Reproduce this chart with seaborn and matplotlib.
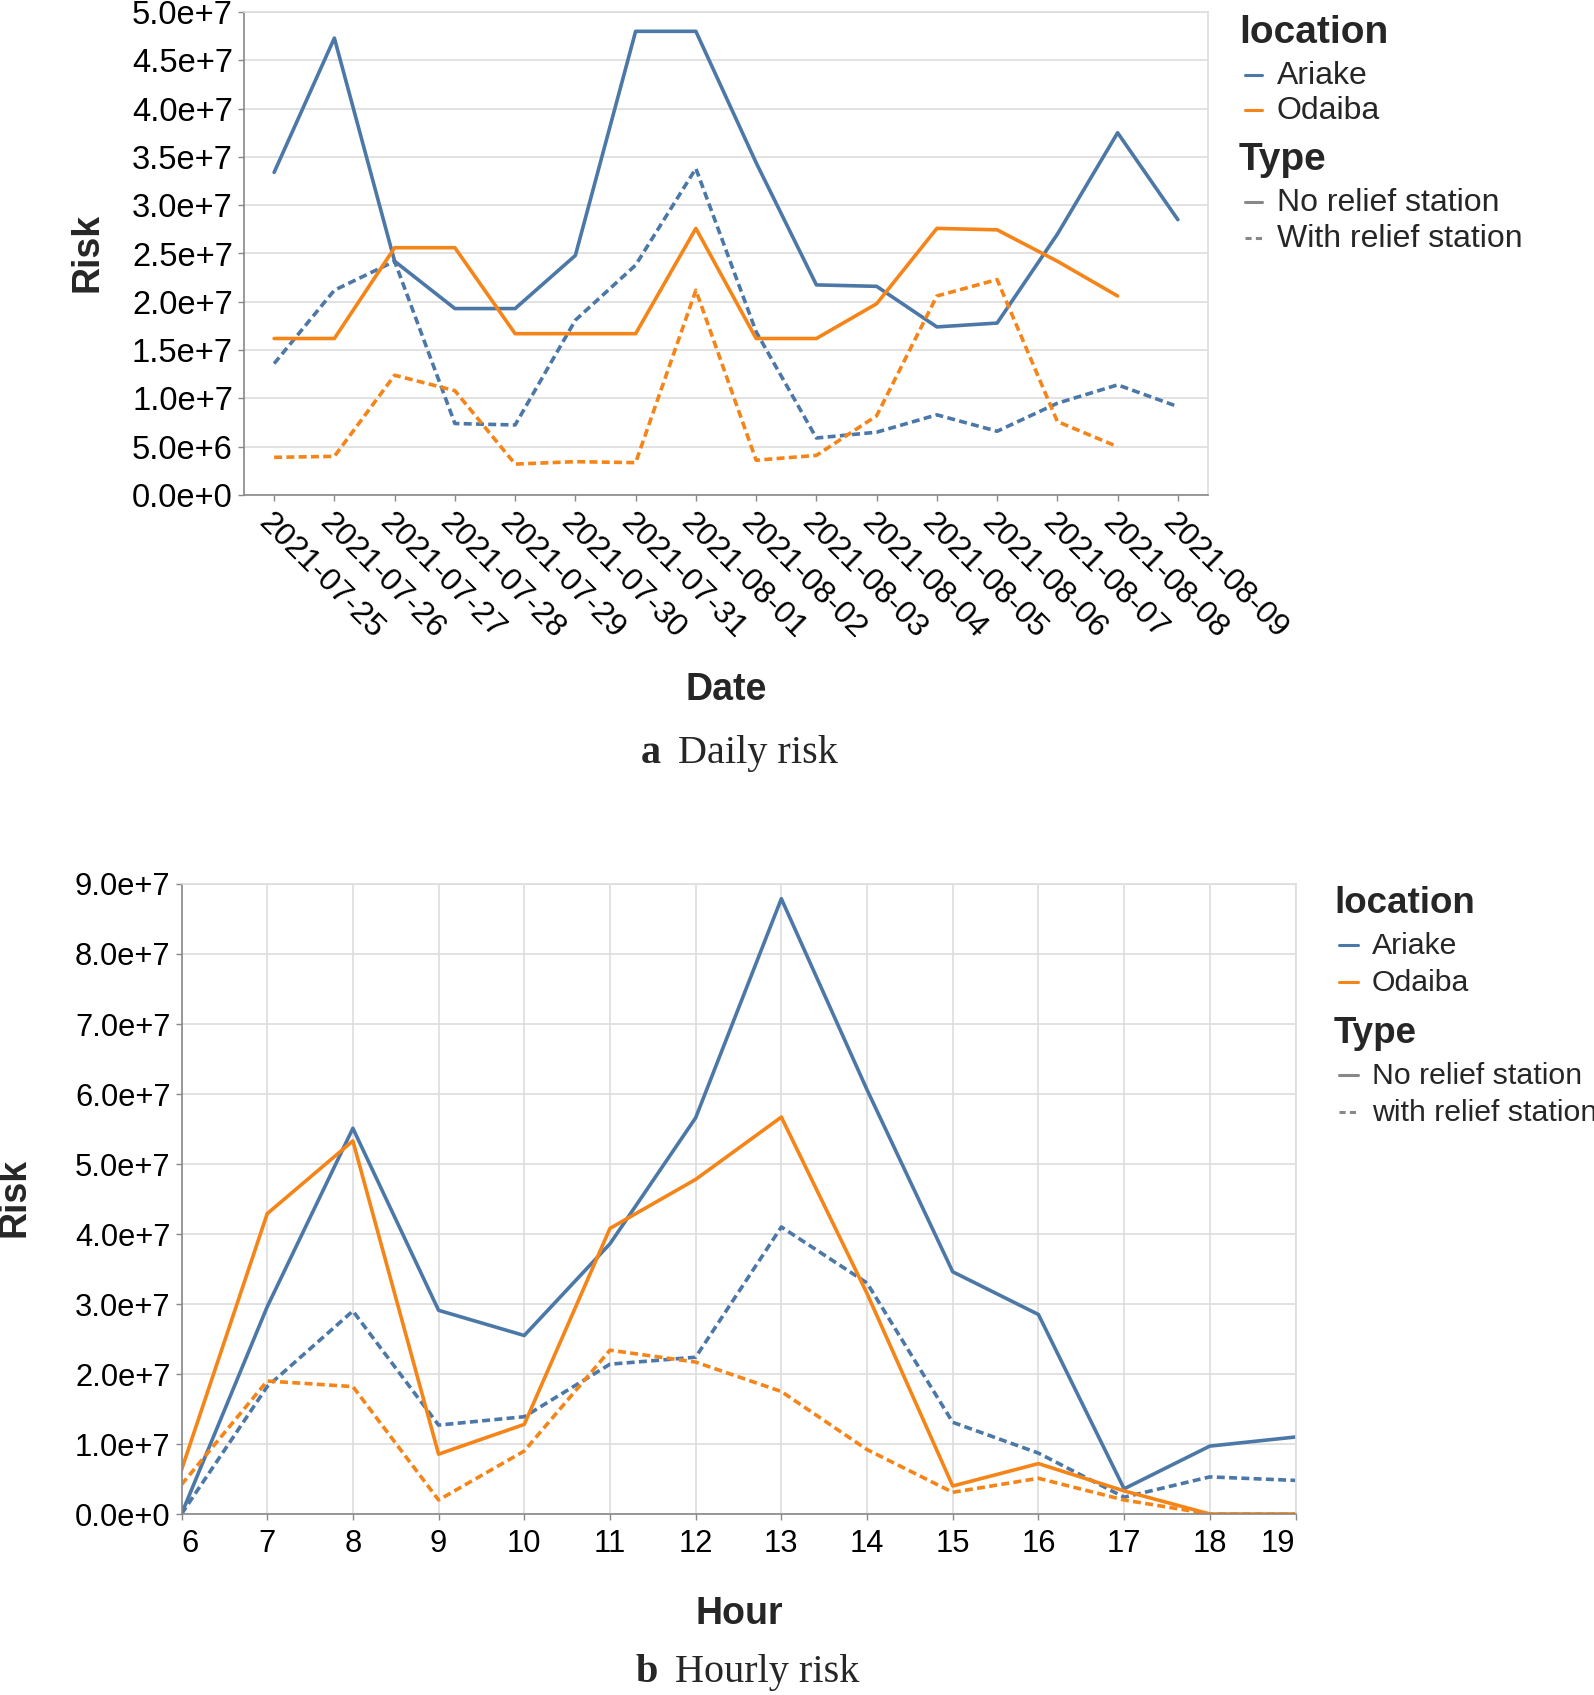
import numpy as np
import pandas as pd
import matplotlib
matplotlib.use("Agg")
import matplotlib.pyplot as plt
import matplotlib.dates as mdates
import seaborn as sns
from matplotlib.lines import Line2D
from matplotlib.ticker import FuncFormatter, MultipleLocator

# ---------------- data ----------------
dates = ["2021-07-25", "2021-07-26", "2021-07-27", "2021-07-28", "2021-07-29",
         "2021-07-30", "2021-07-31", "2021-08-01", "2021-08-02", "2021-08-03",
         "2021-08-04", "2021-08-05", "2021-08-06", "2021-08-07", "2021-08-08",
         "2021-08-09"]
daily_ariake_no = [3.34e7, 4.73e7, 2.42e7, 1.93e7, 1.93e7, 2.48e7, 4.80e7, 4.80e7,
                   3.44e7, 2.175e7, 2.16e7, 1.74e7, 1.78e7, 2.70e7, 3.75e7, 2.85e7]
daily_ariake_with = [1.36e7, 2.12e7, 2.42e7, 0.74e7, 0.725e7, 1.81e7, 2.38e7, 3.38e7,
                     1.69e7, 0.59e7, 0.65e7, 0.83e7, 0.66e7, 0.95e7, 1.14e7, 0.915e7]
daily_odaiba_no = [1.62e7, 1.62e7, 2.56e7, 2.56e7, 1.67e7, 1.67e7, 1.67e7, 2.76e7,
                   1.62e7, 1.62e7, 1.98e7, 2.76e7, 2.745e7, 2.42e7, 2.06e7]
daily_odaiba_with = [0.39e7, 0.40e7, 1.24e7, 1.08e7, 0.32e7, 0.345e7, 0.335e7, 2.12e7,
                     0.36e7, 0.41e7, 0.82e7, 2.06e7, 2.23e7, 0.76e7, 0.50e7]

hours = [6, 7, 8, 9, 10, 11, 12, 13, 14, 15, 16, 17, 18, 19]
hourly_ariake_no = [0.0, 2.96e7, 5.51e7, 2.91e7, 2.55e7, 3.86e7, 5.66e7, 8.79e7,
                    6.06e7, 3.46e7, 2.85e7, 0.36e7, 0.97e7, 1.10e7]
hourly_ariake_with = [0.0, 1.82e7, 2.90e7, 1.27e7, 1.39e7, 2.14e7, 2.24e7, 4.10e7,
                      3.30e7, 1.31e7, 0.87e7, 0.24e7, 0.53e7, 0.48e7]
hourly_odaiba_no = [0.63e7, 4.29e7, 5.33e7, 0.855e7, 1.28e7, 4.08e7, 4.78e7, 5.67e7,
                    3.15e7, 0.40e7, 0.72e7, 0.33e7, 0.0, 0.0]
hourly_odaiba_with = [0.42e7, 1.90e7, 1.82e7, 0.20e7, 0.90e7, 2.34e7, 2.17e7, 1.75e7,
                      0.92e7, 0.31e7, 0.51e7, 0.20e7, 0.0, 0.0]

locations = ["Ariake", "Odaiba"]
daily_types = ["No relief station", "With relief station"]
hourly_types = ["No relief station", "with relief station"]

# ---------------- tables ----------------
def long_table(xname, xs, series):
    rows = []
    for (loc, typ), vals in series:
        for x, v in zip(xs, vals):
            rows.append({xname: x, "Risk": v, "location": loc, "Type": typ})
    return pd.DataFrame(rows)

daily = long_table("Date", pd.to_datetime(dates), [
    (("Ariake", daily_types[0]), daily_ariake_no),
    (("Ariake", daily_types[1]), daily_ariake_with),
    (("Odaiba", daily_types[0]), daily_odaiba_no),
    (("Odaiba", daily_types[1]), daily_odaiba_with),
])
hourly = long_table("Hour", hours, [
    (("Ariake", hourly_types[0]), hourly_ariake_no),
    (("Ariake", hourly_types[1]), hourly_ariake_with),
    (("Odaiba", hourly_types[0]), hourly_odaiba_no),
    (("Odaiba", hourly_types[1]), hourly_odaiba_with),
])

# ---------------- style ----------------
sns.set_theme(style="white")
plt.rcParams['font.family'] = ['Liberation Sans', 'DejaVu Sans']

BLUE, ORANGE = "#4c78a8", "#f58518"
palette = {"Ariake": BLUE, "Odaiba": ORANGE}
LW = 2.6
DASH = (2.2, 1.2)
GRID = "#dddddd"
DOMAIN = "#888888"
AX_TITLE_FS = 27
CAP_FS = 29

W, H = 1594, 1695
fig = plt.figure(figsize=(W / 100, H / 100), dpi=100)

def rect(l, t, r, b):
    return [l / W, 1 - b / H, (r - l) / W, (b - t) / H]

def fx(x):
    return x / W

def fy(y):
    return 1 - y / H

def sci(v, pos=None):
    m, e = f"{v:.1e}".split("e")
    ei = int(e)
    return f"{m}e{'+' if ei >= 0 else '-'}{abs(ei)}"

def style_axes(ax, fs, xpad):
    for s in ["left", "bottom"]:
        ax.spines[s].set_color(DOMAIN)
        ax.spines[s].set_linewidth(1.2)
    for s in ["top", "right"]:
        ax.spines[s].set_color(GRID)
        ax.spines[s].set_linewidth(1.2)
    ax.tick_params(axis="both", which="major", direction="out", length=4, width=1,
                   color=DOMAIN, labelsize=fs, pad=4, labelcolor="black",
                   bottom=True, left=True)
    ax.tick_params(axis="x", pad=xpad)
    ax.yaxis.set_major_formatter(FuncFormatter(sci))
    ax.set_xlabel("")
    ax.set_ylabel("")
    ax.set_axisbelow(True)

# ---------------- panel a ----------------
ax1 = fig.add_axes(rect(244, 12, 1208, 495))
sns.lineplot(data=daily, x="Date", y="Risk", hue="location", style="Type",
             palette=palette, hue_order=locations, style_order=daily_types,
             dashes={daily_types[0]: "", daily_types[1]: DASH},
             linewidth=LW, legend=False, ax=ax1)
d0 = pd.to_datetime(dates[0])
d1 = pd.to_datetime(dates[-1])
ax1.set_xlim(d0 - pd.Timedelta(hours=12), d1 + pd.Timedelta(hours=12))
ax1.set_ylim(0, 5e7)
ax1.yaxis.set_major_locator(MultipleLocator(5e6))
ax1.set_xticks(pd.to_datetime(dates))
ax1.xaxis.set_major_formatter(mdates.DateFormatter("%Y-%m-%d"))
style_axes(ax1, 23.5, 5.5)
ax1.tick_params(axis="x", labelsize=23)
ax1.yaxis.grid(True, color=GRID, linewidth=1.2)
ax1.xaxis.grid(False)
for lab in ax1.get_xticklabels():
    lab.set_rotation(-45)
    lab.set_rotation_mode("anchor")
    lab.set_ha("left")
    lab.set_va("top")

# ---------------- panel b ----------------
ax2 = fig.add_axes(rect(181.5, 884, 1295.5, 1514))
sns.lineplot(data=hourly, x="Hour", y="Risk", hue="location", style="Type",
             palette=palette, hue_order=locations, style_order=hourly_types,
             dashes={hourly_types[0]: "", hourly_types[1]: DASH},
             linewidth=LW, legend=False, ax=ax2)
ax2.set_xlim(6, 19)
ax2.set_ylim(0, 9e7)
ax2.set_xticks(hours)
ax2.set_xticklabels([str(h) for h in hours])
ax2.yaxis.set_major_locator(MultipleLocator(1e7))
style_axes(ax2, 22.2, 7)
ax2.grid(True, color=GRID, linewidth=1.2)
xl = ax2.get_xticklabels()
xl[0].set_ha("left")
xl[-1].set_ha("right")

# ---------------- axis titles ----------------
fig.text(fx(88), fy(252), "Risk", rotation=90, ha="center", va="center",
         fontsize=AX_TITLE_FS, fontweight="bold")
fig.text(fx(15), fy(1197), "Risk", rotation=90, ha="center", va="center",
         fontsize=AX_TITLE_FS, fontweight="bold")
fig.text(fx(726), fy(690), "Date", ha="center", va="center",
         fontsize=AX_TITLE_FS, fontweight="bold")
fig.text(fx(739), fy(1614), "Hour", ha="center", va="center",
         fontsize=AX_TITLE_FS, fontweight="bold")

# ---------------- captions ----------------
serif = ['Liberation Serif', 'DejaVu Serif']
fig.text(fx(641), fy(763), "a", ha="left", va="baseline", fontsize=CAP_FS,
         fontweight="bold", family=serif)
fig.text(fx(678), fy(763), "Daily risk", ha="left", va="baseline", fontsize=CAP_FS,
         family=serif)
fig.text(fx(636), fy(1682), "b", ha="left", va="baseline", fontsize=CAP_FS,
         fontweight="bold", family=serif)
fig.text(fx(675), fy(1682), "Hourly risk", ha="left", va="baseline", fontsize=CAP_FS,
         family=serif)

# ---------------- legends ----------------
def legend_block(x_title, x_handle0, x_handle1, x_text, rows, types, fs, tfs):
    t1, e1, e2, t2, e3, e4 = rows
    fig.text(fx(x_title), fy(t1), "location", ha="left", va="baseline",
             fontsize=tfs, fontweight="bold")
    fig.text(fx(x_title), fy(t2), "Type", ha="left", va="baseline",
             fontsize=tfs, fontweight="bold")
    entries = [(e1, locations[0], BLUE, "-"), (e2, locations[1], ORANGE, "-"),
               (e3, types[0], "#888888", "-"), (e4, types[1], "#888888", "--")]
    for yb, label, col, ls in entries:
        yh = yb - 9.5
        ln = Line2D([fx(x_handle0), fx(x_handle1)], [fy(yh), fy(yh)],
                    transform=fig.transFigure, color=col, linewidth=2.2,
                    linestyle=ls)
        if ls == "--":
            ln.set_dashes((2.0, 1.4))
        fig.add_artist(ln)
        fig.text(fx(x_text), fy(yb), label, ha="left", va="baseline", fontsize=fs)

legend_block(1239, 1245, 1262, 1277, [43, 84, 119, 170, 211, 247], daily_types, 23, 28)
legend_block(1334, 1339, 1358, 1372, [913, 954, 991, 1043, 1084, 1121], hourly_types,
             21.8, 26.5)

fig.savefig("out.png", dpi=100, facecolor="white")
